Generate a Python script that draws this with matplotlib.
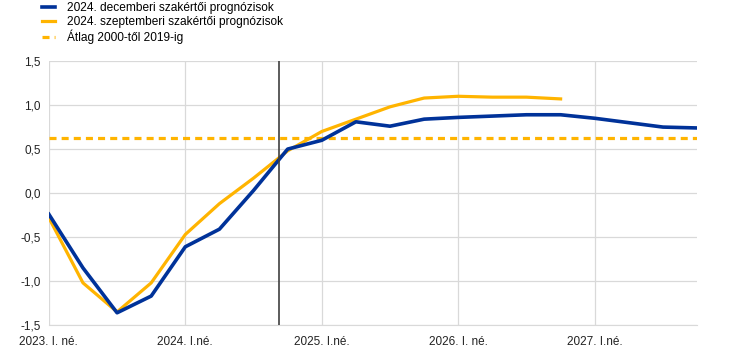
import matplotlib.pyplot as plt
import numpy as np

plt.rcParams['font.family'] = ['Liberation Sans', 'DejaVu Sans']

# negyedévek 2023 I. - 2027 IV.
quarters = np.arange(20)
dec_proj = [-0.24, -0.85, -1.36, -1.17, -0.61, -0.41, 0.03, 0.50, 0.60, 0.81,
            0.76, 0.84, 0.86, 0.875, 0.89, 0.89, 0.85, 0.80, 0.75, 0.74]
sep_proj = [-0.28, -1.02, -1.35, -1.02, -0.47, -0.12, 0.17, 0.48, 0.70, 0.84,
            0.98, 1.08, 1.10, 1.09, 1.09, 1.07]
avg_2000_2019 = 0.63
cutoff = 6.75

xtick_pos = [0, 4, 8, 12, 16]
xtick_labels = ['2023. I. né.', '2024. I.né.', '2025. I.né.', '2026. I. né.', '2027. I.né.']
ytick_pos = [-1.5, -1.0, -0.5, 0.0, 0.5, 1.0, 1.5]

blue = '#003299'
yellow = '#FFB400'

fig = plt.figure(figsize=(7.4, 3.53), dpi=100)
ax = fig.add_axes([0.066, 0.079, 0.876, 0.748])

ax.plot(quarters, dec_proj, color=blue, lw=2.6, label='2024. decemberi szakértői prognózisok', zorder=4)
ax.plot(quarters[:len(sep_proj)], sep_proj, color=yellow, lw=2.3,
        label='2024. szeptemberi szakértői prognózisok', zorder=3)
ax.axhline(avg_2000_2019, color=yellow, lw=2.3, ls=(0, (2.2, 1.6)),
           label='Átlag 2000-től 2019-ig', zorder=2)
ax.axvline(cutoff, color='#404040', lw=1.2, zorder=5)

ax.set_xlim(0, 19)
ax.set_ylim(-1.5, 1.5)
ax.set_xticks(xtick_pos)
ax.set_xticklabels(xtick_labels)
ax.set_yticks(ytick_pos)
ax.set_yticklabels([f'{v:.1f}'.replace('.', ',') for v in ytick_pos])
ax.tick_params(length=0, labelsize=8.5, colors='#222222', pad=6)
ax.tick_params(axis='x', pad=8)

ax.grid(True, color='#d9d9d9', lw=0.9)
ax.set_axisbelow(True)
for side in ['top', 'right', 'left']:
    ax.spines[side].set_visible(False)
ax.spines['bottom'].set_color('#d9d9d9')

fig.legend(loc='upper left', bbox_to_anchor=(0.057, 0.993), frameon=False,
           fontsize=8.6, handlelength=1.1, handletextpad=1.0, labelspacing=0.12,
           borderaxespad=0, borderpad=0)

fig.savefig('out.png', dpi=100)
